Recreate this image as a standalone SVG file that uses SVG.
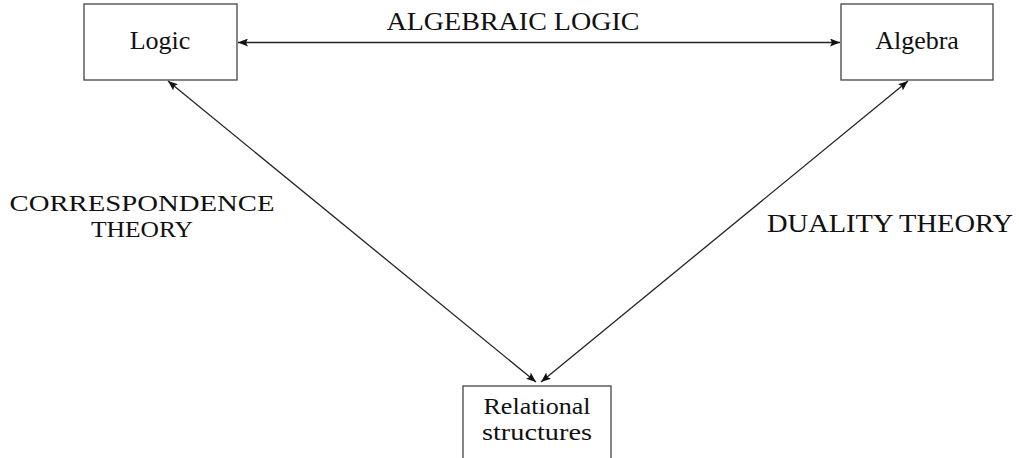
<svg xmlns="http://www.w3.org/2000/svg" width="1019" height="458" viewBox="0 0 1019 458">
<style>
.box{fill:#fff;stroke:#444;stroke-width:1.3}
.t{font-family:"Liberation Serif","DejaVu Serif",serif;font-size:26px;fill:#111}
.s{font-size:24px}
.c{stroke:#222;stroke-width:1.3;fill:none;marker-start:url(#a);marker-end:url(#a)}
</style>
<defs>
<marker id="a" viewBox="0 0 10 8" refX="10" refY="4" markerWidth="10" markerHeight="8" markerUnits="userSpaceOnUse" orient="auto-start-reverse">
<path d="M0,0 L10,4 L0,8 L2,4 Z" fill="#111"/>
</marker>
</defs>
<rect width="1019" height="458" fill="#fff"/>
<g id="connectors">
<line class="c" x1="238" y1="42.5" x2="840" y2="42.5"/>
<line class="c" x1="168" y1="81" x2="536" y2="382"/>
<line class="c" x1="908" y1="81" x2="541" y2="382"/>
</g>
<g id="logic">
<rect class="box" x="84" y="4" width="153" height="76"/>
<text class="t" x="160" y="49" text-anchor="middle">Logic</text>
</g>
<g id="algebra">
<rect class="box" x="841" y="4" width="152" height="76"/>
<text class="t" x="917" y="49" text-anchor="middle">Algebra</text>
</g>
<g id="relational">
<rect class="box" x="463" y="386" width="148" height="80"/>
<text class="t s" x="537" y="414" text-anchor="middle" textLength="107" lengthAdjust="spacingAndGlyphs">Relational</text>
<text class="t s" x="537" y="440" text-anchor="middle" textLength="110" lengthAdjust="spacingAndGlyphs">structures</text>
</g>
<g id="labels">
<text class="t" x="513" y="30" text-anchor="middle" textLength="253" lengthAdjust="spacingAndGlyphs">ALGEBRAIC LOGIC</text>
<text class="t s" x="142" y="211" text-anchor="middle" textLength="265" lengthAdjust="spacingAndGlyphs">CORRESPONDENCE</text>
<text class="t s" x="142" y="237" text-anchor="middle" textLength="102" lengthAdjust="spacingAndGlyphs">THEORY</text>
<text class="t" x="890" y="232" text-anchor="middle" textLength="246" lengthAdjust="spacingAndGlyphs">DUALITY THEORY</text>
</g>
</svg>
